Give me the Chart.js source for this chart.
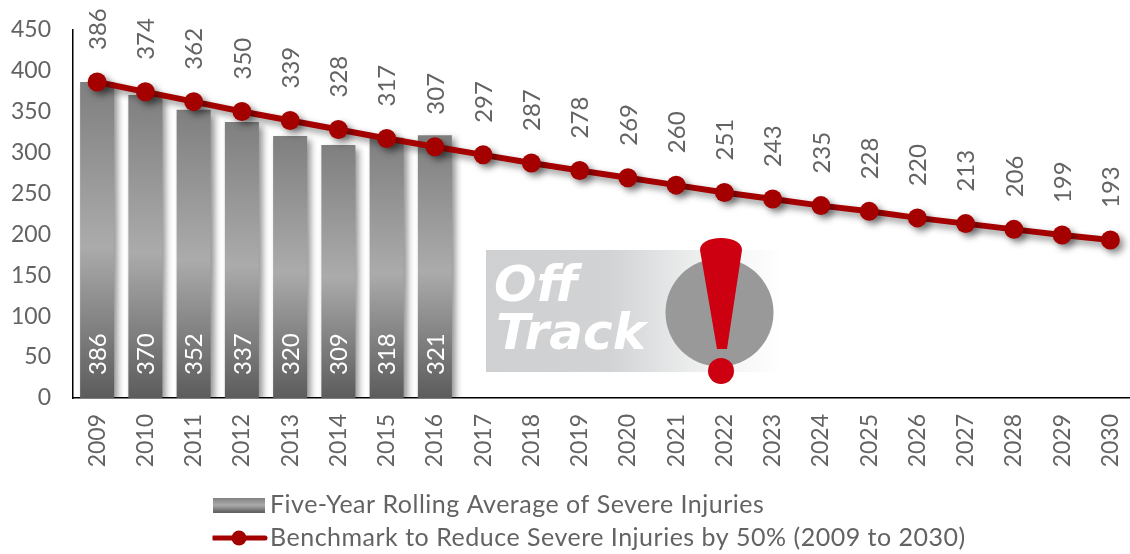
<!DOCTYPE html>
<html>
<head>
<meta charset="utf-8">
<script src="https://cdn.jsdelivr.net/npm/chart.js@4"></script>
<style>
html,body{margin:0;padding:0;background:#fff;overflow:hidden;width:1130px;height:554px}
#wrap{position:relative;width:1130px;height:554px;overflow:hidden}
canvas{position:absolute;left:0;top:0}
svg{position:absolute;left:0;top:0}
</style>
</head>
<body>
<div id="wrap">
<canvas id="c" width="1144" height="554" style="width:1144px;height:554px"></canvas>
<svg width="1130" height="554" viewBox="0 0 1130 554">
  <defs>
    <linearGradient id="fade" x1="0" x2="1" y1="0" y2="0">
      <stop offset="0" stop-color="#cfd0d2"/>
      <stop offset="0.42" stop-color="#d2d3d5"/>
      <stop offset="0.7" stop-color="#eceded"/>
      <stop offset="1" stop-color="#ffffff"/>
    </linearGradient>
  </defs>
  <rect x="486" y="250" width="296" height="122" fill="url(#fade)"/>
  <circle cx="719.5" cy="312.5" r="54" fill="#999999"/>
  <text x="494" y="301" font-family="DejaVu Sans" font-weight="bold" font-style="italic" font-size="50" fill="#ffffff">Off</text>
  <text x="496" y="349" font-family="DejaVu Sans" font-weight="bold" font-style="italic" font-size="50" fill="#ffffff">Track</text>
  <path d="M700 250 C700 243 708 238 721 238 C734 238 742 243 742 250 L727 349 L717 349 Z" fill="#cc0010"/>
  <circle cx="721" cy="371" r="13" fill="#cc0010"/>
</svg>
</div>
<script>
const years = ["2009","2010","2011","2012","2013","2014","2015","2016","2017","2018","2019","2020","2021","2022","2023","2024","2025","2026","2027","2028","2029","2030"];
const rollingAverage = [386,370,352,337,320,309,318,321];
const benchmark = [386,374,362,350,339,328,317,307,297,287,278,269,260,251,243,235,228,220,213,206,199,193];
const yTicks = [0,50,100,150,200,250,300,350,400,450];
const barLabel = "Five-Year Rolling Average of Severe Injuries";
const lineLabel = "Benchmark to Reduce Severe Injuries by 50% (2009 to 2030)";

const FONT = "Lato";
const TEXT = "#636363";
const RED = "#a50000";

function barGradient(ctx, y0, y1) {
  const g = ctx.createLinearGradient(0, y0, 0, y1);
  g.addColorStop(0, "#7f7f7f");
  g.addColorStop(0.52, "#ababab");
  g.addColorStop(1, "#5c5c5c");
  return g;
}

function barSwatch() {
  const cv = document.createElement("canvas");
  cv.width = 52; cv.height = 15;
  const x = cv.getContext("2d");
  x.fillStyle = barGradient(x, 0, 15);
  x.fillRect(0, 0, 52, 15);
  return cv;
}
function lineSwatch() {
  const cv = document.createElement("canvas");
  cv.width = 58; cv.height = 18;
  const x = cv.getContext("2d");
  x.strokeStyle = RED; x.lineWidth = 5; x.lineCap = "round";
  x.beginPath(); x.moveTo(3, 9); x.lineTo(55, 9); x.stroke();
  x.fillStyle = RED;
  x.beginPath(); x.arc(29, 9, 7.5, 0, Math.PI * 2); x.fill();
  return cv;
}

const valueLabels = {
  id: "valueLabels",
  afterDatasetsDraw(chart) {
    const ctx = chart.ctx;
    const base = chart.scales.y.getPixelForValue(0);
    ctx.save();
    ctx.font = "24px " + FONT;
    ctx.textAlign = "left";
    ctx.textBaseline = "middle";
    chart.getDatasetMeta(0).data.forEach((el, i) => {
      ctx.save();
      ctx.translate(el.x + 1, base - 23);
      ctx.rotate(-Math.PI / 2);
      ctx.fillStyle = "#ffffff";
      ctx.fillText(String(rollingAverage[i]), 0, 0);
      ctx.restore();
    });
    chart.getDatasetMeta(1).data.forEach((el, i) => {
      ctx.save();
      ctx.translate(el.x + 1, el.y - 32);
      ctx.rotate(-Math.PI / 2);
      ctx.fillStyle = TEXT;
      ctx.fillText(String(benchmark[i]), 0, 0);
      ctx.restore();
    });
    ctx.restore();
  }
};

const shadows = {
  id: "shadows",
  beforeDatasetDraw(chart) {
    const ctx = chart.ctx;
    ctx.save();
    ctx.shadowColor = "rgba(0,0,0,0.45)";
    ctx.shadowBlur = 7;
    ctx.shadowOffsetX = 4;
    ctx.shadowOffsetY = 4;
  },
  afterDatasetDraw(chart) { chart.ctx.restore(); }
};

const placeLegend = {
  id: "placeLegend",
  afterLayout(chart) {
    const l = chart.legend;
    l.left = 212.5;
    l.top = 484.5;
    if (!l._spaced) {
      const d = l.draw;
      l.draw = function (area) {
        const ctx = chart.ctx;
        ctx.save();
        ctx.letterSpacing = "0.5px";
        d.call(this, area);
        ctx.restore();
      };
      l._spaced = true;
    }
  }
};

new Chart(document.getElementById("c"), {
  type: "bar",
  data: {
    labels: years,
    datasets: [
      {
        type: "bar",
        label: barLabel,
        data: rollingAverage,
        order: 2,
        barPercentage: 0.705,
        categoryPercentage: 1,
        backgroundColor(c) {
          const s = c.chart.scales.y;
          if (!s || c.raw === undefined) return "#8a8a8a";
          return barGradient(c.chart.ctx, s.getPixelForValue(c.raw), s.getPixelForValue(0));
        }
      },
      {
        type: "line",
        label: lineLabel,
        data: benchmark,
        order: 1,
        borderColor: RED,
        backgroundColor: RED,
        borderWidth: 6,
        tension: 0,
        pointRadius: 9.5,
        pointBorderWidth: 0,
        pointBackgroundColor: RED,
        clip: false
      }
    ]
  },
  plugins: [shadows, valueLabels, placeLegend],
  options: {
    responsive: false,
    animation: false,
    layout: { padding: { top: 29.6, right: 3, left: 0, bottom: 0 } },
    plugins: {
      tooltip: { enabled: false },
      legend: {
        position: "bottom",
        align: "start",
        labels: {
          usePointStyle: true,
          pointStyleWidth: 37,
          color: TEXT,
          padding: 8,
          font: { family: FONT, size: 25 },
          generateLabels(chart) {
            return [
              { text: barLabel, pointStyle: barSwatch(), fontColor: TEXT, datasetIndex: 0, lineWidth: 0 },
              { text: lineLabel, pointStyle: lineSwatch(), fontColor: TEXT, datasetIndex: 1, lineWidth: 0 }
            ];
          }
        }
      }
    },
    scales: {
      x: {
        grid: { display: false, drawTicks: false },
        border: { display: true, color: "#000000", width: 1.5 },
        ticks: { color: TEXT, minRotation: 90, maxRotation: 90, padding: 16, autoSkip: false, font: { family: FONT, size: 23 } },
        afterFit(s) { s.height = 554 - 398 - s.chart.legend.height; s.paddingLeft = 0; s.paddingRight = 0; }
      },
      y: {
        min: 0, max: 450,
        afterBuildTicks(s) { s.ticks = yTicks.map(v => ({ value: v })); },
        grid: { display: false, drawTicks: false },
        border: { display: true, color: "#000000", width: 1.5 },
        ticks: { color: TEXT, padding: 22, font: { family: FONT, size: 23 } },
        afterFit(s) { s.width = 73; s.paddingTop = 0; s.paddingBottom = 0; }
      }
    }
  }
});
</script>
</body>
</html>
